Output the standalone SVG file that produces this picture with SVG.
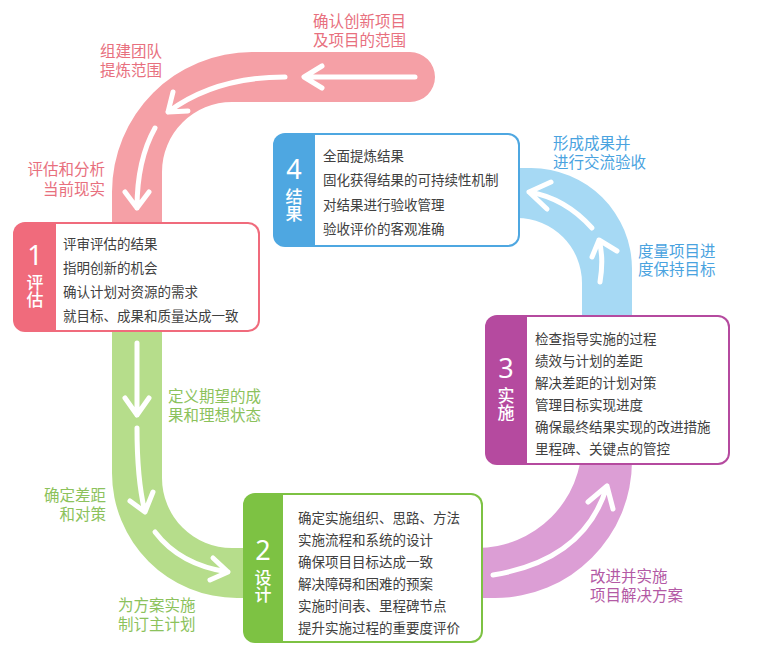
<svg xmlns="http://www.w3.org/2000/svg" width="765" height="659" viewBox="0 0 765 659">
<style>
.lbl{font-family:"Liberation Sans","Noto Sans CJK SC",sans-serif;font-size:15.5px}
.txt{font-family:"Noto Sans CJK SC","Noto Sans",sans-serif;font-size:13.5px;fill:#404040}
.num{font-family:"Noto Sans","Noto Sans CJK SC",sans-serif;font-size:27px;fill:#fff;text-anchor:middle}
.ttl{font-family:"Noto Sans CJK SC",sans-serif;font-size:17px;fill:#fff;font-weight:500;writing-mode:vertical-rl;text-anchor:start}
.arr{fill:none;stroke:#fff;stroke-width:5;stroke-linecap:round;stroke-linejoin:round}
</style>
<rect width="765" height="659" fill="#fff"/>
<g id="connectors">
  <path id="band-pink" d="M410,52 L252,52 A140,140 0 0 0 112,192 L112,230 L162,230 L162,172 A70,70 0 0 1 232,102 L410,102 A25,25 0 0 0 410,52 Z" fill="#f5a0a6"/>
  <path id="band-green" d="M112,328 L112,473 A125,125 0 0 0 237,598 L250,598 L250,548 L232,548 A70,70 0 0 1 162,478 L162,328 Z" fill="#b6dd8b"/>
  <path id="band-blue" d="M515,168 L531,168 A101,101 0 0 1 632,269 L632,320 L582,320 L582,283 A65,65 0 0 0 517,218 L515,218 Z" fill="#a6d9f4"/>
  <path id="band-purple" d="M582,443 L632,443 L632,461 A137,137 0 0 1 495,598 L478,598 L478,548 L477,548 A105,105 0 0 0 582,443 Z" fill="#dc9ed5"/>
  <path class="arr" d="M415,77 L305,77 M322,66 L304,77 L322,88"/>
  <path class="arr" d="M285,77 Q215,77 168,112 M173,92 L168,112 L188,111"/>
  <path class="arr" d="M155,128 Q137,160 137,208 M125,192 L137,208 L149,192"/>
  <path class="arr" d="M137,343 L137,415 M125,398 L137,415 L149,398"/>
  <path class="arr" d="M137,428 Q137,480 145,512 M130,501 L145,512 L153,492"/>
  <path class="arr" d="M155,532 Q180,565 228,572 M213,558 L228,572 L210,580"/>
  <path class="arr" d="M493,575 Q585,560 607,486 M588,502 L607,486 L613,509"/>
  <path class="arr" d="M600,282 Q604,258 599,240 M592,257 L599,240 L617,251"/>
  <path class="arr" d="M592,228 Q565,198 529,192 M551,182 L529,192 L547,209"/>
</g>
<g id="node-1">
  <rect x="13" y="222" width="247" height="110" rx="12" fill="#f06b7c"/>
  <path d="M56,224 H248 A10,10 0 0 1 258,234 V320 A10,10 0 0 1 248,330 H56 Z" fill="#fff"/>
  <text class="num" x="35" y="265">1</text>
  <text class="ttl" x="35" y="274">评估</text>
  <text class="txt" x="63" y="249">评审评估的结果</text>
  <text class="txt" x="63" y="273">指明创新的机会</text>
  <text class="txt" x="63" y="297">确认计划对资源的需求</text>
  <text class="txt" x="63" y="321">就目标、成果和质量达成一致</text>
</g>
<g id="node-4">
  <rect x="273" y="133" width="247" height="114" rx="12" fill="#4ea7e1"/>
  <path d="M315,135 H508 A10,10 0 0 1 518,145 V235 A10,10 0 0 1 508,245 H315 Z" fill="#fff"/>
  <text class="num" x="294" y="179">4</text>
  <text class="ttl" x="294" y="188">结果</text>
  <text class="txt" x="323" y="161">全面提炼结果</text>
  <text class="txt" x="323" y="185">固化获得结果的可持续性机制</text>
  <text class="txt" x="323" y="210">对结果进行验收管理</text>
  <text class="txt" x="323" y="234">验收评价的客观准确</text>
</g>
<g id="node-3">
  <rect x="485" y="315" width="245" height="150" rx="12" fill="#b54a9f"/>
  <path d="M527,317 H718 A10,10 0 0 1 728,327 V453 A10,10 0 0 1 718,463 H527 Z" fill="#fff"/>
  <text class="num" x="506" y="378">3</text>
  <text class="ttl" x="506" y="387">实施</text>
  <text class="txt" x="535" y="344">检查指导实施的过程</text>
  <text class="txt" x="535" y="366">绩效与计划的差距</text>
  <text class="txt" x="535" y="388">解决差距的计划对策</text>
  <text class="txt" x="535" y="410">管理目标实现进度</text>
  <text class="txt" x="535" y="432">确保最终结果实现的改进措施</text>
  <text class="txt" x="535" y="454">里程碑、关键点的管控</text>
</g>
<g id="node-2">
  <rect x="243" y="493" width="240" height="150" rx="12" fill="#7dc243"/>
  <path d="M283,495 H471 A10,10 0 0 1 481,505 V631 A10,10 0 0 1 471,641 H283 Z" fill="#fff"/>
  <text class="num" x="263" y="560">2</text>
  <text class="ttl" x="263" y="569">设计</text>
  <text class="txt" x="298" y="523">确定实施组织、思路、方法</text>
  <text class="txt" x="298" y="545">实施流程和系统的设计</text>
  <text class="txt" x="298" y="567">确保项目目标达成一致</text>
  <text class="txt" x="298" y="589">解决障碍和困难的预案</text>
  <text class="txt" x="298" y="611">实施时间表、里程碑节点</text>
  <text class="txt" x="298" y="633">提升实施过程的重要度评价</text>
</g>
<g id="labels">
  <g fill="#e8707e" class="lbl">
    <text x="313" y="27">确认创新项目<tspan x="313" dy="19">及项目的范围</tspan></text>
    <text x="100" y="57">组建团队<tspan x="100" dy="19">提炼范围</tspan></text>
    <text x="105" y="175" text-anchor="end">评估和分析<tspan x="105" dy="20">当前现实</tspan></text>
  </g>
  <g fill="#8cc25c" class="lbl">
    <text x="168" y="402">定义期望的成<tspan x="168" dy="19">果和理想状态</tspan></text>
    <text x="106" y="501" text-anchor="end">确定差距<tspan x="106" dy="19">和对策</tspan></text>
    <text x="118" y="611">为方案实施<tspan x="118" dy="19">制订主计划</tspan></text>
  </g>
  <g fill="#4aa3df" class="lbl">
    <text x="553" y="149">形成成果并<tspan x="553" dy="19">进行交流验收</tspan></text>
    <text x="638" y="257">度量项目进<tspan x="638" dy="18">度保持目标</tspan></text>
  </g>
  <g fill="#b35aa5" class="lbl">
    <text x="590" y="582">改进并实施<tspan x="590" dy="19">项目解决方案</tspan></text>
  </g>
</g>
</svg>
